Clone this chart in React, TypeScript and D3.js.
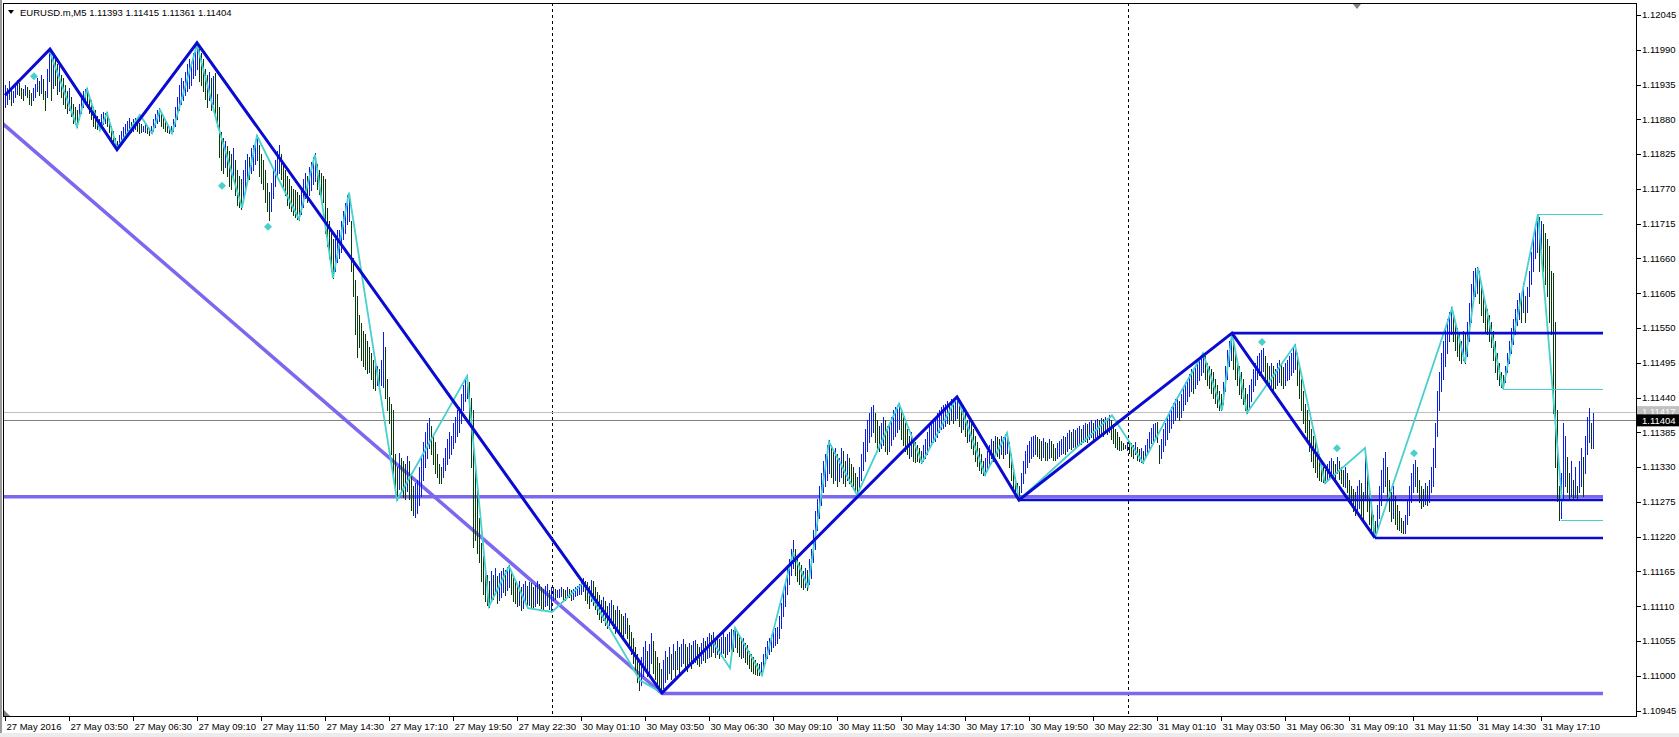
import React from 'react';
import * as d3 from 'd3';

// bar highs / lows in points above 1.11000 (pairs: high, low), one pair per M5 bar
const may27 = [
  935,900, 930,905, 940,912, 928,902, 925,908, 933,915, 942,920, 938,918, 930,914, 928,910,
  935,918, 931,915, 926,905, 922,902, 930,910, 936,915, 945,925, 940,918, 950,922, 944,912,
  925,895, 960,915, 990,940, 978,910, 985,930, 975,935, 968,920, 965,925, 950,915, 945,905,
  935,898, 925,890, 930,895, 915,885, 905,875, 900,872, 895,868, 905,880, 915,890, 925,900,
  928,905, 930,900, 918,890, 910,880, 900,870, 895,866, 885,865, 880,863, 888,870, 892,872,
  890,875, 892,870, 880,860, 870,850, 862,842, 850,838, 845,833, 855,838, 862,845, 868,848,
  872,855, 878,858, 882,862, 876,860, 880,862, 882,864, 878,862, 875,858, 872,860, 870,862,
  874,860, 868,858, 866,856, 870,858, 880,862, 888,868, 895,875, 898,878, 890,870, 885,866,
  878,862, 872,860, 868,858, 870,858, 880,862, 900,870, 915,880, 935,895, 945,905, 940,910,
  955,918, 968,925, 975,930, 970,935, 985,945, 995,950, 1001,960, 992,940, 985,935, 975,925,
  960,912, 950,900, 955,910, 945,895, 948,905, 953,890, 920,870, 900,820, 860,800, 850,795,
  845,805, 838,790, 830,775, 825,770, 835,785, 815,760, 800,745, 790,742, 785,738, 800,750,
  815,770, 825,780, 820,785, 835,795, 840,800, 848,810, 855,815, 840,790, 825,780, 815,770,
  800,750, 780,735, 765,721, 780,735, 800,755, 815,775, 830,790, 839,795, 825,785, 810,770,
  800,760, 790,745, 785,740, 775,735, 770,728, 768,725, 765,722, 760,721, 772,730, 785,742,
  795,755, 790,750, 805,760, 812,768, 820,778, 826,782, 810,770, 800,762, 795,758, 790,750,
  785,700, 740,680, 720,660, 700,640, 690,629, 690,640, 705,655, 705,660, 720,670, 735,690,
  748,700, 760,715, 764,720, 720,640, 660,600, 626,540, 600,504, 570,520, 558,500, 545,490,
  540,485, 530,479, 520,480, 510,470, 499,455, 495,452, 490,460, 485,452, 500,460, 544,457,
  520,440, 470,420, 441,400, 430,350, 420,320, 350,290, 330,278, 352,295, 345,290, 340,282,
  335,280, 348,292, 340,280, 320,262, 300,255, 305,251, 310,258, 330,270, 345,285, 370,310,
  385,330, 400,345, 407,360, 395,350, 380,335, 370,320, 350,315, 335,305, 330,305, 345,315,
  360,325, 375,335, 385,345, 380,350, 400,360, 410,370, 420,380, 425,385, 445,400, 460,420,
  470,435, 476,440, 465,400, 440,330, 420,204, 330,215, 300,194, 250,180, 210,150, 190,130,
  175,118, 160,112, 150,109, 165,118, 160,122, 170,130, 158,115, 162,120, 165,125, 170,132,
  168,128, 172,135, 175,140, 165,130, 155,118, 150,115, 145,110, 150,112, 140,104, 145,108,
  150,115, 142,110, 148,112, 146,108, 140,106, 144,110, 150,115, 145,112, 140,108, 138,104,
  142,110, 145,112, 135,106, 140,104,
];

const may30 = [
  140,120, 138,122, 136,124, 138,125, 140,126, 137,122, 136,120, 140,125, 138,124, 135,120,
  137,122, 140,126, 142,128, 145,130, 150,130, 155,134, 150,120, 148,115, 142,108, 152,118,
  150,112, 140,105, 132,98, 128,90, 120,85, 125,88, 118,80, 110,75, 115,80, 120,85,
  112,76, 104,68, 110,72, 104,70, 98,66, 95,62, 100,68, 92,60, 80,45, 70,35,
  60,20, 45,5, 35,-10, 20,-22, 30,-15, 45,0, 55,10, 40,0, 50,5, 68,20,
  55,5, 40,-5, 30,-15, 20,-20, 10,-27, 25,-20, 40,-10, 30,-5, 45,5, 35,-5,
  50,10, 40,0, 55,10, 45,5, 50,15, 58,20, 50,10, 45,8, 52,15, 48,12,
  55,20, 57,22, 50,18, 45,15, 52,20, 60,25, 55,22, 62,28, 68,30, 65,32,
  70,38, 60,30, 65,35, 58,28, 62,32, 68,36, 62,30, 66,34, 70,40, 74,42,
  72,40, 76,45, 70,38, 64,32, 58,28, 60,30, 52,22, 48,18, 40,12, 35,8,
  30,5, 25,3, 20,2, 18,1, 22,1, 35,10, 45,20, 55,28, 60,35, 65,40,
  70,45, 75,48, 77,52, 95,60, 115,75, 135,95, 150,110, 170,130, 185,145, 200,160,
  215,170, 200,160, 190,150, 180,145, 175,140, 165,138, 170,140, 168,136, 185,145, 200,155,
  230,180, 260,200, 280,230, 300,250, 320,270, 340,290, 350,300, 365,310, 373,320, 365,315,
  355,305, 360,310, 350,300, 345,308, 360,315, 355,305, 340,300, 350,310, 345,305, 335,300,
  330,295, 320,290, 315,286, 330,295, 350,310, 370,325, 390,340, 405,355, 415,370, 425,380,
  428,385, 415,370, 405,360, 395,355, 400,360, 410,365, 405,355, 395,350, 400,355, 410,365,
  420,375, 425,380, 428,385, 431,390, 420,375, 410,365, 400,355, 390,350, 380,345, 385,348,
  375,340, 370,338, 365,340, 360,338, 355,337, 365,340, 375,345, 385,350, 395,360, 400,365,
  405,370, 410,372, 415,378, 420,385, 425,390, 428,392, 430,395, 435,400, 432,398, 438,405,
  436,400, 440,405, 441,408, 430,395, 420,385, 428,390, 415,380, 405,370, 410,372, 400,360,
  390,350, 380,340, 370,332, 360,325, 350,320, 340,318, 345,318, 355,325, 365,335, 375,345,
  372,340, 380,350, 378,348, 375,345, 380,350, 378,345, 382,350, 384,352, 370,330, 350,310,
  330,295, 315,285, 305,280, 300,278, 320,290, 340,305, 355,320, 365,330, 372,338, 378,345,
  380,348, 381,350, 378,348, 375,345, 372,342, 376,346, 370,341, 368,342, 374,344, 372,346,
  366,342, 360,341, 368,344, 372,348, 375,350, 380,352, 378,350, 384,355, 388,360, 385,358,
  390,362, 388,360, 392,365, 395,368, 390,366, 396,370, 400,372, 398,370, 402,375, 404,378,
  400,375, 404,378, 406,380, 405,378, 408,382, 406,380, 410,384, 408,382, 412,386, 405,375,
  398,368, 390,362, 385,358, 378,357, 372,357, 368,358, 365,360, 370,357,
];

const may31 = [
  372,352, 368,348, 365,345, 370,350, 362,342, 358,340, 360,338, 355,337, 365,345, 375,352,
  385,360, 392,368, 398,372, 400,375, 401,370, 365,337, 375,345, 390,355, 400,365, 410,375,
  418,385, 425,392, 432,400, 438,405, 441,410, 435,405, 445,410, 455,420, 465,430, 470,435,
  478,442, 485,450, 482,448, 490,455, 495,462, 500,468, 505,475, 510,480, 505,470, 495,460,
  490,455, 485,448, 480,440, 470,432, 460,425, 450,420, 445,420, 465,430, 490,450, 515,470,
  530,490, 542,500, 530,485, 515,470, 500,460, 490,445, 480,440, 470,430, 455,420, 445,416,
  460,425, 470,435, 485,450, 495,460, 505,470, 510,475, 515,480, 518,482, 505,470, 495,460,
  490,455, 495,458, 490,452, 485,455, 495,460, 500,465, 492,460, 488,455, 495,460, 500,468,
  505,470, 510,475, 518,480, 525,485, 510,460, 490,440, 470,420, 450,400, 430,385, 420,370,
  405,355, 390,340, 380,330, 370,322, 360,315, 350,310, 340,308, 330,306, 325,305, 335,310,
  340,315, 345,318, 340,312, 335,308, 346,320, 340,312, 330,305, 325,300, 330,298, 320,290,
  310,280, 300,270, 295,260, 290,255, 300,260, 310,265, 305,255, 290,245, 360,280, 320,260,
  290,240, 270,230, 255,222, 245,218, 270,230, 300,250, 325,270, 345,290, 354,300, 330,280,
  310,260, 290,245, 300,250, 285,240, 270,232, 260,230, 250,228, 245,226, 255,226, 280,240,
  300,255, 320,275, 335,290, 341,300, 330,290, 310,275, 300,265, 295,268, 305,272, 300,270,
  310,275, 330,290, 360,300, 400,330, 450,380, 480,420, 510,450, 530,470, 550,490, 565,510,
  575,530, 583,540, 574,530, 560,515, 550,505, 540,500, 530,495, 545,500, 540,495, 560,505,
  590,530, 620,560, 640,590, 645,600, 647,605, 640,590, 620,570, 600,560, 590,545, 580,540,
  570,530, 560,520, 545,500, 530,480, 510,470, 495,460, 480,456, 475,454, 490,465, 510,480,
  530,495, 550,510, 565,525, 580,540, 595,555, 605,565, 600,560, 621,575, 600,560, 615,575,
  640,600, 670,620, 690,640, 710,660, 730,670, 725,640, 720,660, 715,640, 700,620, 690,600,
  680,560, 640,540, 637,416, 560,330, 420,276, 300,246, 320,250, 400,280, 380,300, 346,290,
  320,278, 340,285, 310,280, 330,282, 300,278, 340,290, 360,300, 346,285, 380,320, 410,350,
  424,370, 400,360, 415,361,
];

// indicator lines: [bar index, points above 1.11000]
const bigZigzag = [[0, 918], [22.5, 991], [56, 832], [96, 1001], [328.5, -27], [476, 441], [507, 278], [613.5, 542], [685, 218]];
const smallZigzag = [
  [22, 990], [36, 868], [41, 928], [47.5, 863], [51, 890], [56, 835], [67.5, 887], [73.5, 858], [77.5, 895], [83.5, 858],
  [96, 998], [106, 875], [118.5, 740], [126, 854], [136, 790], [147, 722], [155, 824], [164, 629], [172, 764], [196, 278],
  [231, 474], [242, 110], [252, 173], [261.5, 107], [273.5, 101], [289, 147], [317.5, -7], [328.5, -27], [354, 53], [362.5, 12],
  [365, 76], [378.5, 1], [394, 194], [401.5, 141], [412, 370], [426, 286], [447, 430], [458.5, 337], [476, 441], [490, 318],
  [501, 384], [507, 278], [553.5, 412], [569, 337], [586.5, 441], [599, 510], [608.5, 420], [613.5, 542], [621, 416], [645, 523],
  [660, 305], [680, 360], [685, 218], [723.5, 581], [730, 495], [736.5, 645], [749, 454], [766.5, 730], [778.5, 275],
];
const channelLine = [[-2.5, 877], [328.5, -28]];
const purpleLevels = [[-2.5, 283], [328.5, -28]];
const blueLevels = [[507, 278], [613.5, 542], [685, 218]];
const cyanLevels = [[766.5, 730], [749, 454], [778, 246]];
const diamonds = [[14.5, 948], [108.5, 775], [131.5, 710], [628.5, 528], [666, 360], [704.5, 352]];
const levelEnd = 799;

const askPrice = 1.11417;
const bidPrice = 1.11404;
const header = 'EURUSD.m,M5  1.11393 1.11415 1.11361 1.11404';

const priceTicks = [
  1.12045, 1.1199, 1.11935, 1.1188, 1.11825, 1.1177, 1.11715, 1.1166, 1.11605, 1.1155, 1.11495,
  1.1144, 1.11385, 1.1133, 1.11275, 1.1122, 1.11165, 1.1111, 1.11055, 1.11, 1.10945,
];
const timeLabels = [
  '27 May 2016', '27 May 03:50', '27 May 06:30', '27 May 09:10', '27 May 11:50', '27 May 14:30', '27 May 17:10',
  '27 May 19:50', '27 May 22:30', '30 May 01:10', '30 May 03:50', '30 May 06:30', '30 May 09:10', '30 May 11:50',
  '30 May 14:30', '30 May 17:10', '30 May 19:50', '30 May 22:30', '31 May 01:10', '31 May 03:50', '31 May 06:30',
  '31 May 09:10', '31 May 11:50', '31 May 14:30', '31 May 17:10',
];
const barsPerLabel = 32;

const W = 1679;
const H = 737;
const left = 3, right = 1636, top = 3, bottom = 716;
const font = "'Liberation Sans', Arial, sans-serif";

const price = (o: number) => 1.11 + o / 1e5;

const App = () => {
  const all = [...may27, ...may30, ...may31];
  const bars = d3.range(all.length / 2).map(i => ({ i, high: price(all[2 * i]), low: price(all[2 * i + 1]) }));
  const x = d3.scaleLinear().domain([0, 794]).range([5, 1593]);
  const y = d3.scaleLinear().domain([1.10945, 1.12045]).range([710.6, 15]);
  const line = d3.line<any>().x(d => x(d[0])).y(d => y(price(d[1])));

  const day30 = may27.length / 2;
  const day31 = day30 + may30.length / 2;

  return (
    <svg width={W} height={H} style={{ position: 'absolute', left: 0, top: 0, background: '#fff', fontFamily: font }}>
      <defs>
        <clipPath id="plot">
          <rect x={left} y={top} width={right - left} height={bottom - top} />
        </clipPath>
      </defs>
      <rect x={0} y={0} width={W} height={H} fill="#fff" />
      <line x1={1} x2={1} y1={0} y2={H} stroke="#9a9a9a" strokeWidth={2} />
      <rect x={0} y={733} width={W} height={4} fill="#ececec" />

      <g clipPath="url(#plot)">
        {/* separators */}
        {[day30 - 0.5, day31 - 0.5].map((d, k) => (
          <line key={k} x1={Math.round(x(d)) + 0.5} x2={Math.round(x(d)) + 0.5} y1={top} y2={bottom}
            stroke="#000" strokeDasharray="3,3" />
        ))}
        {/* bid / ask */}
        <line x1={left} x2={right} y1={Math.round(y(askPrice)) + 0.5} y2={Math.round(y(askPrice)) + 0.5} stroke="#c0c0c0" />
        <line x1={left} x2={right} y1={Math.round(y(bidPrice)) + 0.5} y2={Math.round(y(bidPrice)) + 0.5} stroke="#808080" />

        {/* channel */}
        <path d={line(channelLine as any) || ''} fill="none" stroke="#7b68ee" strokeWidth={3.5} />
        <line x1={x(purpleLevels[0][0])} x2={x(levelEnd)} y1={y(price(purpleLevels[0][1]))} y2={y(price(purpleLevels[0][1]))}
          stroke="#7b68ee" strokeWidth={3.5} />
        <line x1={x(purpleLevels[1][0])} x2={x(levelEnd)} y1={y(price(purpleLevels[1][1]))} y2={y(price(purpleLevels[1][1]))}
          stroke="#7b68ee" strokeWidth={3.5} />

        {/* bars */}
        <g shapeRendering="crispEdges">
          {bars.map((b, k) => {
            const prev = bars[k - 1];
            const up = !prev || b.high + b.low >= prev.high + prev.low;
            const bx = Math.round(x(b.i)) + 0.5;
            return (
              <line key={k} x1={bx} x2={bx} y1={Math.round(y(b.high))} y2={Math.round(y(b.low)) + 1}
                stroke={up ? '#0a1ee6' : '#073b0c'} strokeWidth={1} />
            );
          })}
        </g>

        {/* small zigzag */}
        <path d={line(smallZigzag as any) || ''} fill="none" stroke="#48d1cc" strokeWidth={1.8} />
        {cyanLevels.map(([i, o], k) => (
          <line key={k} x1={x(i)} x2={x(levelEnd)} y1={Math.round(y(price(o))) + 0.5} y2={Math.round(y(price(o))) + 0.5}
            stroke="#48d1cc" strokeWidth={1} />
        ))}
        {diamonds.map(([i, o], k) => {
          const cx = x(i), cy = y(price(o));
          return <path key={k} d={`M${cx},${cy - 4}L${cx + 4},${cy}L${cx},${cy + 4}L${cx - 4},${cy}Z`} fill="#48d1cc" />;
        })}

        {/* big zigzag */}
        <path d={line(bigZigzag as any) || ''} fill="none" stroke="#0a0ad0" strokeWidth={3} strokeLinejoin="miter" />
        {blueLevels.map(([i, o], k) => (
          <line key={k} x1={x(i)} x2={x(levelEnd)} y1={y(price(o))} y2={y(price(o))} stroke="#0a0ad0" strokeWidth={2.6} />
        ))}
      </g>

      {/* frame */}
      <rect x={left + 0.5} y={top + 0.5} width={right - left} height={bottom - top} fill="none" stroke="#000" />
      <path d={`M1353,${top + 1}L1361,${top + 1}L1357,${top + 6}Z`} fill="#808080" />
      <path d={`M${left + 1},${bottom - 6}L${left + 1},${bottom}L${left + 7},${bottom}Z`} fill="#808080" />

      {/* header */}
      <path d="M8,10L14,10L11,14Z" fill="#000" />
      <text x={20} y={16} fontSize={9.5} fill="#000">{header}</text>

      {/* price axis */}
      {priceTicks.map((p, k) => (
        <g key={k}>
          <line x1={right} x2={right + 5} y1={Math.round(y(p)) + 0.5} y2={Math.round(y(p)) + 0.5} stroke="#000" />
          <text x={right + 6} y={y(p)} dy="0.35em" fontSize={9.5} fill="#000">{p.toFixed(5)}</text>
        </g>
      ))}
      <rect x={right + 1} y={y(askPrice) - 6} width={W - right - 1} height={12} fill="#c0c0c0" />
      <text x={right + 6} y={y(askPrice)} dy="0.35em" fontSize={9.5} fill="#fff">{askPrice.toFixed(5)}</text>
      <rect x={right + 1} y={y(bidPrice) - 6} width={W - right - 1} height={12} fill="#000" />
      <text x={right + 6} y={y(bidPrice)} dy="0.35em" fontSize={9.5} fill="#fff">{bidPrice.toFixed(5)}</text>

      {/* time axis */}
      {timeLabels.map((t, k) => {
        const tx = Math.round(x(k * barsPerLabel)) + 0.5;
        return (
          <g key={k}>
            <line x1={tx} x2={tx} y1={bottom} y2={bottom + 5} stroke="#000" />
            <text x={tx + 1} y={729.5} fontSize={9.5} fill="#000">{t}</text>
          </g>
        );
      })}
    </svg>
  );
};

export default App;
